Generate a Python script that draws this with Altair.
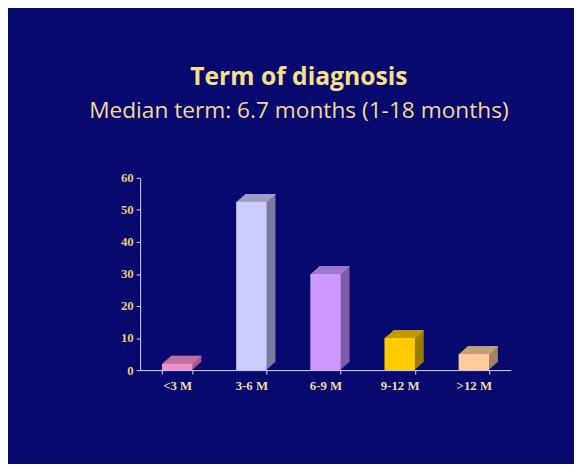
import altair as alt
import pandas as pd

categories = ["<3 M", "3-6 M", "6-9 M", "9-12 M", ">12 M"]
values = [2, 52.5, 30, 10, 5]
front_colors = ["#f090c8", "#ccccff", "#cc99ff", "#ffcc00", "#ffcc99"]
side_colors = ["#a05888", "#7a7a9e", "#7c5ca8", "#9c7c00", "#a08264"]
top_colors = ["#c874a8", "#a0a0cc", "#a07acc", "#c8a000", "#caa47c"]

df = pd.DataFrame({
    "cat": categories,
    "val": values,
    "front": front_colors,
    "side": side_colors,
    "top": top_colors,
})

BG = "#07096e"
AXIS = "#d8d8ff"
DEPTH_X = 9.0
DEPTH_Y = 8
STEPS = 8

x = alt.X(
    "cat:N",
    sort=categories,
    scale=alt.Scale(paddingInner=0.59, paddingOuter=0.295),
    axis=alt.Axis(
        title=None, labelAngle=0, tickBand="extent", domainColor=AXIS, tickColor=AXIS,
        tickSize=4, labelColor="#f0dca8", labelFont="Liberation Serif",
        labelFontWeight="bold", labelFontSize=13, labelPadding=6,
    ),
)
y = alt.Y(
    "val:Q",
    scale=alt.Scale(domain=[0, 60]),
    axis=alt.Axis(
        title=None, values=[0, 10, 20, 30, 40, 50, 60], grid=False, domainColor=AXIS,
        tickColor=AXIS, tickSize=4, labelColor="#ecc878", labelFont="Liberation Serif",
        labelFontWeight="bold", labelFontSize=13, labelPadding=3,
    ),
)

base = alt.Chart(df)
layers = []
# side faces (staircase approximating the parallelogram)
for i in range(STEPS):
    dx = (i + 1) * DEPTH_X / STEPS
    dy = (i + 1) * DEPTH_Y / STEPS
    layers.append(
        base.mark_bar(xOffset=dx, yOffset=-dy, y2Offset=-dy).encode(
            x=x, y=y, y2=alt.datum(0), color=alt.Color("side:N", scale=None)
        )
    )
# top faces
for i in range(STEPS):
    dx = (i + 1) * DEPTH_X / STEPS
    layers.append(
        base.mark_bar(xOffset=dx, yOffset=-(i + 1) * DEPTH_Y / STEPS,
                      y2Offset=-i * DEPTH_Y / STEPS).encode(
            x=x, y=y, y2="val:Q", color=alt.Color("top:N", scale=None)
        )
    )
# front faces
layers.append(base.mark_bar().encode(x=x, y=y, color=alt.Color("front:N", scale=None)))

chart = alt.layer(*layers).properties(
    width=376,
    height=195,
    padding={"left": 134, "top": 169, "right": 64, "bottom": 92},
    autosize=alt.AutoSizeParams(type="none"),
    background=BG,
    title=alt.TitleParams(
        text="Term of diagnosis",
        subtitle="Median term: 6.7 months (1-18 months)",
        anchor="middle",
        dx=-27,
        offset=50,
        font="Open Sans",
        fontSize=25,
        fontWeight="bold",
        color="#f8e088",
        subtitleFont="Open Sans",
        subtitleFontSize=23,
        subtitleColor="#f2da92",
        subtitlePadding=10,
    ),
).configure_view(stroke=None)

chart.save("out.html", embed_options={"renderer": "svg", "actions": False})
